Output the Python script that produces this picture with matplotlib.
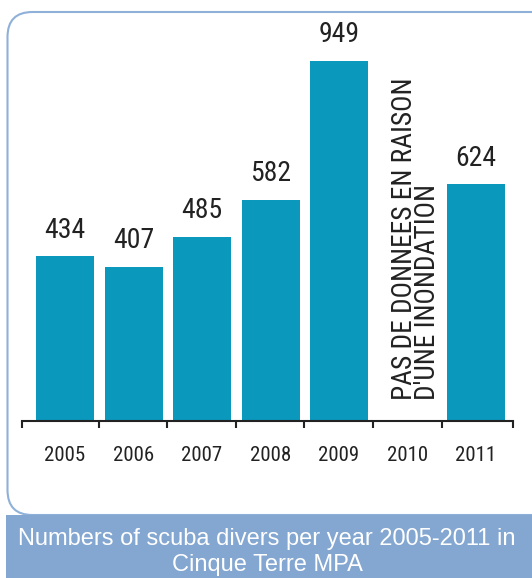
import matplotlib
matplotlib.use("Agg")
import matplotlib.pyplot as plt
from matplotlib import font_manager
from matplotlib.patches import FancyBboxPatch, Rectangle

# data
years = ["2005", "2006", "2007", "2008", "2009", "2010", "2011"]
divers = [434, 407, 485, 582, 949, None, 624]
missing_note = "PAS DE DONNEES EN RAISON\nD'UNE INONDATION"
caption = "Numbers of scuba divers per year 2005-2011 in\nCinque Terre MPA"

BAR = "#0b98bd"
BAND = "#84a7d1"
EDGE = "#8fb0d8"
INK = "#222222"


def pick_narrow():
    # find a condensed face if one is installed
    for fam in ["Liberation Sans Narrow", "Roboto Condensed", "DejaVu Sans Condensed",
                "Open Sans Condensed", "Noto Sans Condensed"]:
        try:
            font_manager.findfont(font_manager.FontProperties(family=fam),
                                  fallback_to_default=False)
            return dict(family=fam)
        except Exception:
            pass
    return dict(family="DejaVu Sans", stretch="condensed")


NARROW = pick_narrow()

W, H = 532, 578
fig = plt.figure(figsize=(W / 100, H / 100), dpi=100, facecolor="white")

# rounded frame (inches)
frame = FancyBboxPatch((0.075, 0.63), 6.0, 5.03,
                       boxstyle="round,pad=0,rounding_size=0.25",
                       transform=fig.dpi_scale_trans, facecolor="none",
                       edgecolor=EDGE, linewidth=1.5)
fig.patches.append(frame)

# caption band
band = Rectangle((0.06, 0), 5.4, 0.63, transform=fig.dpi_scale_trans,
                 facecolor=BAND, edgecolor="none")
fig.patches.append(band)
fig.text(267 / W, 26 / H, caption, color="white", ha="center", va="center",
         fontsize=17, family="Liberation Sans", linespacing=1.2)

# axes: baseline at y=421 px, left 22 px, right 513 px
left_i, right_i = -0.628, 6.54
ax = fig.add_axes([22 / W, (H - 421) / H, 491 / W, (421 - 12) / H])
ymax = 949 * (421 - 12) / 360.0
ax.set_xlim(left_i, right_i)
ax.set_ylim(0, ymax)

xs = [i for i, v in enumerate(divers) if v is not None]
vals = [v for v in divers if v is not None]
ax.bar(xs, vals, width=0.847, color=BAR, zorder=2)

for x, v in zip(xs, vals):
    ax.annotate(str(v), xy=(x, v), xytext=(0, 13.5), textcoords="offset points",
                ha="center", va="baseline", fontsize=20, color=INK, **NARROW)

ax.annotate(missing_note, xy=(5, 0), xytext=(6, 15), textcoords="offset points",
            rotation=90, ha="center", va="bottom", multialignment="left",
            fontsize=19.7, color=INK, linespacing=0.8, **NARROW)

for s in ["top", "right", "left"]:
    ax.spines[s].set_visible(False)
ax.spines["bottom"].set_color(INK)
ax.spines["bottom"].set_linewidth(1.5)
ax.set_yticks([])

ax.set_xticks(range(len(years)))
ax.set_xticklabels(years, fontsize=15, color=INK, **NARROW)
ax.tick_params(axis="x", which="major", length=0, pad=18)
ax.set_xticks([left_i, 0.49, 1.49, 2.49, 3.49, 4.49, 5.5, right_i], minor=True)
ax.tick_params(axis="x", which="minor", length=5, width=1.5, color=INK,
               direction="out")
ax.patch.set_alpha(0)

fig.savefig("out.png", dpi=100, facecolor="white")
